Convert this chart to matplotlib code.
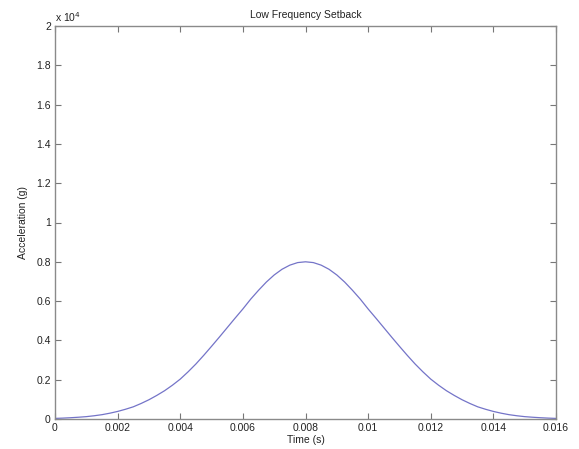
import matplotlib
matplotlib.use("Agg")
import matplotlib.pyplot as plt

plt.rcParams['font.family'] = ['Liberation Sans', 'DejaVu Sans']

time_s = [0.0, 0.00025, 0.0005, 0.00075, 0.001, 0.00125, 0.0015, 0.00175,
          0.002, 0.00225, 0.0025, 0.00275, 0.003, 0.00325, 0.0035, 0.00375,
          0.004, 0.00425, 0.0045, 0.00475, 0.005, 0.00525, 0.0055, 0.00575,
          0.006, 0.00625, 0.0065, 0.00675, 0.007, 0.00725, 0.0075, 0.00775,
          0.008, 0.00825, 0.0085, 0.00875, 0.009, 0.00925, 0.0095, 0.00975,
          0.010, 0.01025, 0.0105, 0.01075, 0.011, 0.01125, 0.0115, 0.01175,
          0.012, 0.01225, 0.0125, 0.01275, 0.013, 0.01325, 0.0135, 0.01375,
          0.014, 0.01425, 0.0145, 0.01475, 0.015, 0.01525, 0.0155, 0.01575,
          0.016]
accel_g = [30, 45, 65, 90, 120, 165, 220, 295,
           385, 495, 620, 790, 980, 1200, 1440, 1720,
           2030, 2400, 2800, 3240, 3700, 4170, 4650, 5130,
           5600, 6100, 6550, 6970, 7330, 7620, 7830, 7960,
           8000, 7960, 7830, 7620, 7330, 6970, 6550, 6100,
           5600, 5130, 4650, 4170, 3700, 3240, 2800, 2400,
           2030, 1720, 1440, 1200, 980, 790, 620, 495,
           385, 295, 220, 165, 120, 90, 65, 45,
           30]

xticks = [0, 0.002, 0.004, 0.006, 0.008, 0.010, 0.012, 0.014, 0.016]
xticklabels = ['0', '0.002', '0.004', '0.006', '0.008', '0.01', '0.012', '0.014', '0.016']
yticks = [0, 2000, 4000, 6000, 8000, 10000, 12000, 14000, 16000, 18000, 20000]
yticklabels = ['0', '0.2', '0.4', '0.6', '0.8', '1', '1.2', '1.4', '1.6', '1.8', '2']

fig = plt.figure(figsize=(5.79, 4.49), dpi=100)
ax = fig.add_axes([55/579, 1 - 419/449, (556 - 55)/579, (419 - 26)/449])
ax.plot(time_s, accel_g, color='#7474c8', lw=0.9)
ax.set_xlim(0, 0.016)
ax.set_ylim(0, 20000)
ax.set_xticks(xticks)
ax.set_xticklabels(xticklabels)
ax.set_yticks(yticks)
ax.set_yticklabels(yticklabels)
ax.tick_params(direction='in', length=4, width=0.8, colors='#777777',
               labelcolor='#222222', labelsize=7.5, top=True, right=True, pad=3)
for s in ax.spines.values():
    s.set_color('#8a8a8a')
    s.set_linewidth(1.0)
ax.set_title('Low Frequency Setback', fontsize=7.5, color='#222222', pad=6)
ax.set_xlabel('Time (s)', fontsize=7.5, color='#222222', labelpad=1)
ax.set_ylabel('Acceleration (g)', fontsize=7.5, color='#222222', labelpad=6)
ax.text(0.0, 1.005, 'x 10$^4$', transform=ax.transAxes, fontsize=7.5,
        color='#222222', ha='left', va='bottom')
fig.savefig('out.png', dpi=100)
